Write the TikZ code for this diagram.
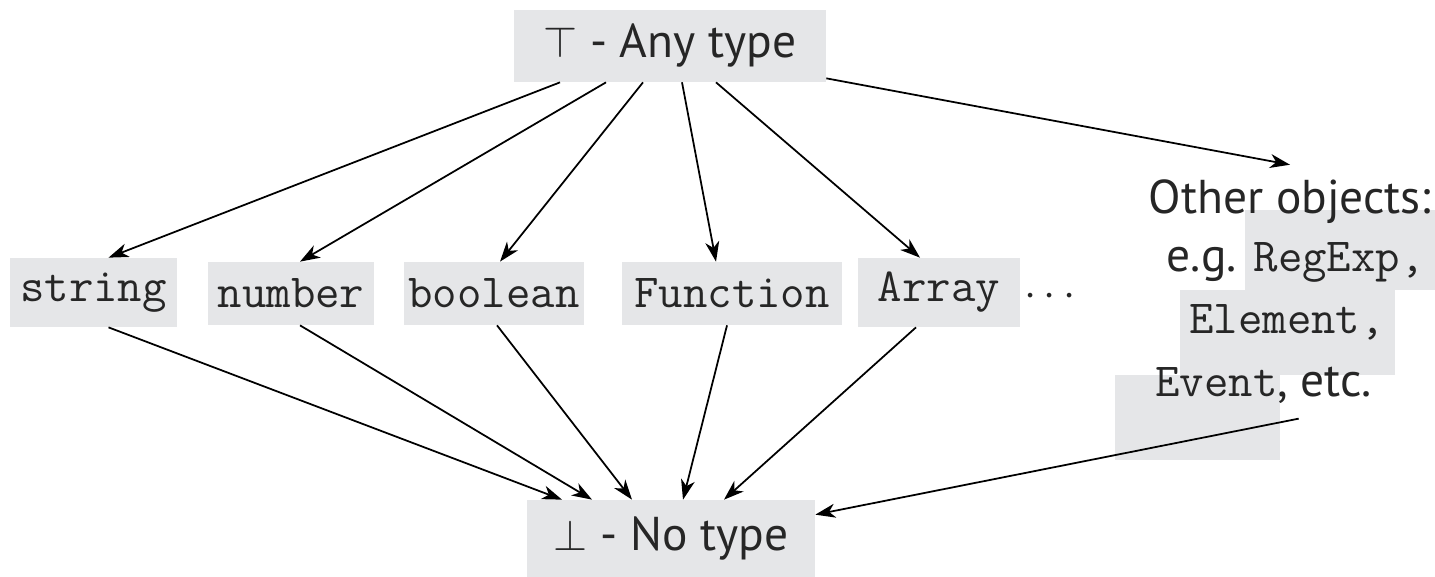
\documentclass[tikz,border=0pt]{standalone}
\usepackage{fontspec}
\setmainfont{PT Sans}
\usetikzlibrary{arrows.meta}
\definecolor{boxgray}{RGB}{229,230,232}
\newcommand{\TypeName}[1]{{\fontsize{27}{30}\selectfont\ttfamily #1}}
\tikzset{
  tbox/.style={fill=boxgray, inner sep=0pt, text=black!85},
  lbl/.style={inner sep=0pt, text=black!85},
  sub/.style={-{Stealth[length=0.4cm,width=0.28cm,inset=0.12cm]}, line width=1pt},
}

\begin{document}
\begin{tikzpicture}[x=0.02cm, y=-0.02cm, font=\fontsize{27}{30}\selectfont]
	  \useasboundingbox (0,0) rectangle (1435,577);
	  % Shaded backgrounds of the other objects
	  \fill[boxgray] (1245,210) rectangle (1435,290);
	  \fill[boxgray] (1180,290) rectangle (1395,375);
	  \fill[boxgray] (1115,375) rectangle (1280,460);

	  % Define nodes
	  \node[tbox, minimum width=6.24cm, minimum height=1.44cm] (any) at (670,46) {$\top$ - Any type};
	  \node[tbox, minimum width=3.34cm, minimum height=1.38cm] (str) at (93.5,292.5) {\TypeName{string}};
	  \node[tbox, minimum width=3.32cm, minimum height=1.26cm] (num) at (291,293.5) {\TypeName{number}};
	  \node[tbox, minimum width=3.6cm, minimum height=1.26cm] (bool) at (494,293.5) {\TypeName{boolean}};
	  \node[tbox, minimum width=4.4cm, minimum height=1.26cm] (fun) at (732,293.5) {\TypeName{Function}};
	  \node[tbox, minimum width=3.24cm, minimum height=1.38cm] (arr) at (939,292.5) {\TypeName{Array}};
	  \node[lbl] (dots) at (1050,297) {$\cdots$};
	  \node[lbl] (other) at (1290,202) {Other objects:};
	  \node[lbl, anchor=east] (eg) at (1425,262) {e.g. \TypeName{RegExp,}};
	  \node[lbl] (elem) at (1287,322) {\TypeName{Element,}};
	  \node[lbl, anchor=west] (evt) at (1155,385) {\TypeName{Event}, etc.};
	  \node[tbox, minimum width=5.76cm, minimum height=1.54cm] (none) at (671,538.5) {$\bot$ - No type};

	  % Connect the nodes
	  \draw[sub] ([xshift=-2.2cm]any.south) -- ([xshift=0.3cm]str.north);
	  \draw[sub] ([xshift=-1.28cm]any.south) -- ([xshift=0.18cm]num.north);
	  \draw[sub] ([xshift=-0.54cm]any.south) -- ([xshift=0.12cm]bool.north);
	  \draw[sub] ([xshift=0.24cm]any.south) -- ([xshift=-0.32cm]fun.north);
	  \draw[sub] ([xshift=0.92cm]any.south) -- ([xshift=-0.38cm]arr.north);
	  \draw[sub] ([yshift=0.08cm]any.south east) -- ([yshift=0.3cm]other.north);

	  \draw[sub] ([xshift=0.3cm]str.south) -- ([xshift=-2.18cm]none.north);
	  \draw[sub] ([xshift=0.18cm]num.south) -- ([xshift=-1.58cm]none.north);
	  \draw[sub] ([xshift=0.06cm]bool.south) -- ([xshift=-0.78cm]none.north);
	  \draw[sub] ([xshift=-0.1cm]fun.south) -- ([xshift=0.24cm]none.north);
	  \draw[sub] ([xshift=-0.46cm]arr.south) -- ([xshift=1.06cm]none.north);
	  \draw[sub] ([xshift=0.7cm, yshift=-0.3cm]evt.south) -- ([yshift=-0.3cm]none.north east);
	\end{tikzpicture}
\end{document}
